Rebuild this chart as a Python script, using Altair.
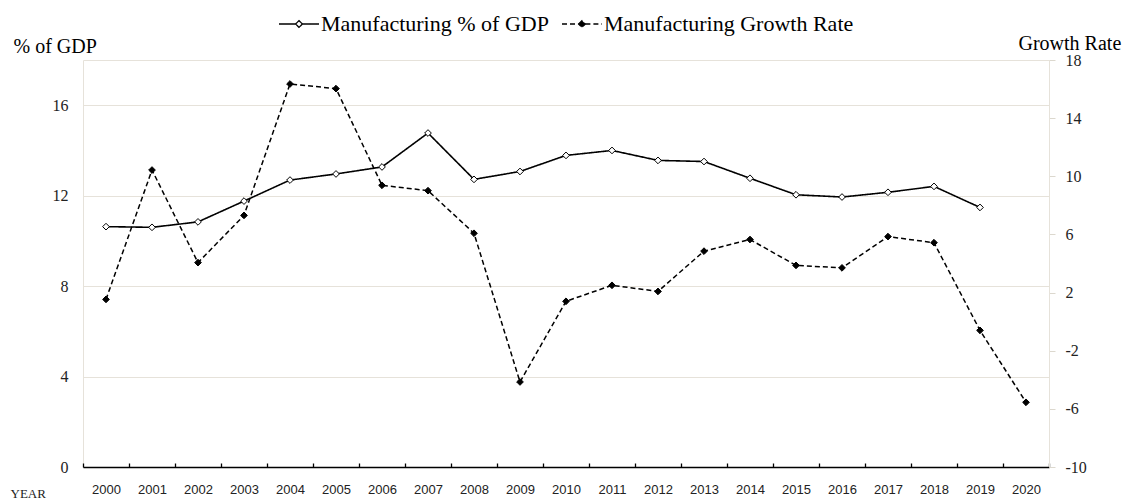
import altair as alt
import pandas as pd

# ---- data ----
years = list(range(2000, 2021))
gdp_share = [10.63, 10.60, 10.84, 11.76, 12.69, 12.96, 13.27, 14.77, 12.72, 13.07,
             13.78, 14.00, 13.56, 13.51, 12.77, 12.04, 11.94, 12.15, 12.41, 11.48, None]
growth_rate = [1.53, 10.43, 4.06, 7.31, 16.35, 16.03, 9.38, 9.01, 6.08, -4.15,
               1.40, 2.50, 2.08, 4.85, 5.65, 3.87, 3.70, 5.85, 5.43, -0.60, -5.55]
series_names = ["Manufacturing % of GDP", "Manufacturing Growth Rate"]
left_ticks = [0, 4, 8, 12, 16]
right_ticks = [-10, -6, -2, 2, 6, 10, 14, 18]
tick_edges = [y - 0.5 for y in years] + [years[-1] + 0.5]

rows = []
for y, g in zip(years, gdp_share):
    if g is not None:
        rows.append({"year": y, "series": series_names[0], "value": g})
for y, r in zip(years, growth_rate):
    rows.append({"year": y, "series": series_names[1], "value": r})
df = pd.DataFrame(rows)

SERIF = "Liberation Serif"
SANS = "Liberation Sans"
GRID = "#e6e2da"
TEXT = "#222222"
W, H = 966, 407

x_scale = alt.Scale(domain=[years[0] - 0.5, years[-1] + 0.5], nice=False, zero=False)

legend = alt.Legend(
    title=None, orient="none", direction="horizontal", legendX=195, legendY=-57,
    symbolType="M-1,0L-0.17,0M0.17,0L1,0M-0.17,0L0,-0.17L0.17,0L0,0.17Z",
    symbolSize=1600, symbolStrokeColor="black", symbolStrokeWidth=1.3,
    labelFont=SERIF, labelFontSize=22, labelColor="black", labelOffset=1,
    labelLimit=500, columnPadding=10, padding=0,
)

dash_enc = alt.StrokeDash("series:N",
                          scale=alt.Scale(domain=series_names, range=[[1, 0], [5, 3]]),
                          legend=legend)
fill_enc = alt.Fill("series:N",
                    scale=alt.Scale(domain=series_names, range=["white", "black"]),
                    legend=legend)

x_bottom = alt.X("year:Q", scale=x_scale, axis=alt.Axis(
    values=years, format="d", orient="bottom", ticks=False, tickSize=0, grid=False,
    domain=True, domainColor="black", domainWidth=1.5,
    labelFont=SANS, labelFontSize=13, labelColor=TEXT, labelPadding=16,
    title="YEAR", titleFont=SERIF, titleFontSize=13, titleFontWeight="normal",
    titleAngle=0, titleAlign="left", titleBaseline="alphabetic",
    titleX=-73, titleY=30, titleColor=TEXT))

x_top = alt.X("year:Q", scale=x_scale, axis=alt.Axis(
    values=tick_edges, orient="top", offset=-H, labels=False, domain=False,
    grid=False, ticks=True, tickColor="black", tickSize=4, tickWidth=1.3, title=None))

y_left = alt.Y("value:Q", scale=alt.Scale(domain=[0, 18], nice=False, zero=False),
               axis=alt.Axis(
    orient="left", values=left_ticks, grid=True, gridColor=GRID, gridWidth=1,
    domain=False, ticks=False, labelFont=SERIF, labelFontSize=16, labelColor=TEXT,
    labelExpr="datum.value + ''",
    labelPadding=15, title="% of GDP", titleFont=SERIF, titleFontSize=20,
    titleFontWeight="normal", titleAngle=0, titleAlign="left",
    titleBaseline="alphabetic", titleX=-70, titleY=-8, titleColor="black"))

y_right = alt.Y("value:Q", scale=alt.Scale(domain=[-10, 18], nice=False, zero=False),
                axis=alt.Axis(
    orient="right", values=right_ticks, grid=False, domain=True, domainColor=GRID,
    ticks=True, tickColor="#dcd8ce", tickSize=6, labelFont=SERIF, labelFontSize=16,
    labelExpr="datum.value + ''",
    labelColor=TEXT, labelPadding=10, title="Growth Rate", titleFont=SERIF,
    titleFontSize=20, titleFontWeight="normal", titleAngle=0, titleAlign="left",
    titleBaseline="alphabetic", titleX=-31, titleY=-11, titleColor="black"))

is_gdp = alt.datum.series == series_names[0]
is_growth = alt.datum.series == series_names[1]

gdp_line = alt.Chart().mark_line(color="black", strokeWidth=1.6).encode(
    x=x_bottom, y=y_left, strokeDash=dash_enc).transform_filter(is_gdp)
gdp_pts = alt.Chart().mark_point(shape="diamond", filled=True, stroke="black",
                                 strokeWidth=1, size=45, opacity=1).encode(
    x=x_bottom, y=y_left, fill=fill_enc).transform_filter(is_gdp)

growth_line = alt.Chart().mark_line(color="black", strokeWidth=1.5).encode(
    x=x_top, y=y_right, strokeDash=dash_enc).transform_filter(is_growth)
growth_pts = alt.Chart().mark_point(shape="diamond", filled=True, stroke="black",
                                    strokeWidth=1, size=45, opacity=1).encode(
    x=x_top, y=y_right, fill=fill_enc).transform_filter(is_growth)

gdp = alt.layer(gdp_line, gdp_pts)
growth = alt.layer(growth_line, growth_pts)

chart = alt.layer(gdp, growth, data=df).resolve_scale(
    y="independent").resolve_axis(x="independent", y="independent").properties(
    width=W, height=H,
    padding={"left": 75, "top": 52, "right": 86, "bottom": 32},
    autosize=alt.AutoSizeParams(type="none"),
    background="white",
).configure_view(stroke=GRID, strokeWidth=1).configure_axisY(
    labelFont=SERIF, titleFont=SERIF)

chart.save("out.html", embed_options={"renderer": "svg", "actions": False})
